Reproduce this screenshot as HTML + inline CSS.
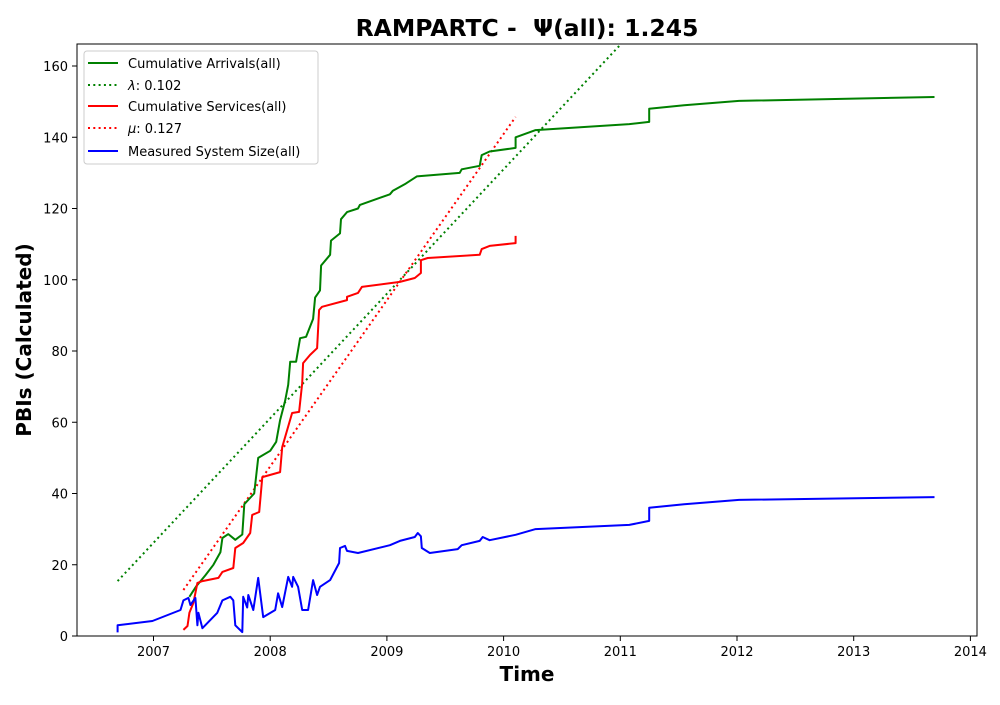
<!DOCTYPE html>
<html><head><meta charset="utf-8"><style>
body{margin:0;background:#fff;}
svg text{font-family:"DejaVu Sans","Liberation Sans",sans-serif;}
</style></head><body>
<svg id="chart" width="1000" height="700" xmlns="http://www.w3.org/2000/svg">
<defs><clipPath id="plotclip"><rect x="77" y="44" width="900" height="592"/></clipPath></defs>
<rect x="0" y="0" width="1000" height="700" fill="#fff"/>
<text x="527" y="36" text-anchor="middle" font-size="23.5" font-weight="bold" style="white-space:pre">RAMPARTC -  Ψ(all): 1.245</text>
<g id="xticks"></g>
<g id="yticks"></g>
<g id="series" clip-path="url(#plotclip)"></g>
<rect x="77" y="44" width="900" height="592" fill="none" stroke="#000" stroke-width="1"/>
<text x="527" y="681" text-anchor="middle" font-size="20" font-weight="bold">Time</text>
<text x="0" y="0" transform="translate(31,340) rotate(-90)" text-anchor="middle" font-size="20" font-weight="bold">PBIs (Calculated)</text>
<g>
<rect x="84" y="51" width="234" height="113" rx="3" fill="#fff" fill-opacity="0.8" stroke="#ccc"/>
<line x1="88" y1="63" x2="118" y2="63" stroke="green" stroke-width="2"/>
<text x="128" y="68" font-size="13">Cumulative Arrivals(all)</text>
<line x1="88" y1="85" x2="118" y2="85" stroke="green" stroke-width="2" stroke-dasharray="2,3.3"/>
<text x="128" y="90" font-size="13"><tspan font-style="italic">λ</tspan>: 0.102</text>
<line x1="88" y1="106" x2="118" y2="106" stroke="red" stroke-width="2"/>
<text x="128" y="111" font-size="13">Cumulative Services(all)</text>
<line x1="88" y1="128" x2="118" y2="128" stroke="red" stroke-width="2" stroke-dasharray="2,3.3"/>
<text x="128" y="133" font-size="13"><tspan font-style="italic">μ</tspan>: 0.127</text>
<line x1="88" y1="151" x2="118" y2="151" stroke="blue" stroke-width="2"/>
<text x="128" y="156" font-size="13">Measured System Size(all)</text>
</g>
</svg>
<script>
const xTickLabels=[2007,2008,2009,2010,2011,2012,2013,2014];
const yTickLabels=[0,20,40,60,80,100,120,140,160];
const arrT=[2007.308,2007.368,2007.444,2007.513,2007.573,2007.590,2007.641,2007.701,2007.761,2007.778,2007.863,2007.880,2007.897,2008.000,2008.051,2008.085,2008.128,2008.154,2008.171,2008.222,2008.256,2008.308,2008.368,2008.385,2008.427,2008.436,2008.513,2008.521,2008.598,2008.607,2008.658,2008.752,2008.769,2009.026,2009.051,2009.162,2009.256,2009.624,2009.641,2009.795,2009.812,2009.880,2010.103,2010.103,2010.274,2011.077,2011.248,2011.248,2011.547,2012.017,2013.692];
const arrV=[11,14,17,20,23.5,27.5,28.6,27,28.5,37,40,45,50,52,54.5,60.6,66,70.5,77,77,83.6,84,89,95,97,104,107,111,113,117,119,120,121,124,125,127,129,130,131,132,135,136,137,140,142,143.7,144.3,148,149,150.2,151.3];
const svcT=[2007.256,2007.291,2007.308,2007.342,2007.376,2007.419,2007.556,2007.590,2007.684,2007.701,2007.769,2007.829,2007.846,2007.906,2007.932,2008.085,2008.103,2008.188,2008.248,2008.274,2008.282,2008.342,2008.402,2008.419,2008.444,2008.658,2008.658,2008.752,2008.786,2009.111,2009.239,2009.291,2009.291,2009.350,2009.795,2009.812,2009.880,2010.103,2010.103];
const svcV=[1.7,2.8,6.5,9.3,14.9,15.4,16.3,18,19.1,24.7,26.1,28.9,34,34.8,44.6,46,53,62.6,62.9,71,76.6,78.9,80.8,91.5,92.4,94.3,95.2,96.3,98,99.4,100.5,101.9,105.5,106.1,107,108.6,109.5,110.3,112.3];
const sizeT=[2006.692,2006.692,2006.991,2007.231,2007.256,2007.299,2007.316,2007.359,2007.376,2007.385,2007.419,2007.547,2007.590,2007.658,2007.684,2007.701,2007.761,2007.769,2007.803,2007.812,2007.855,2007.897,2007.940,2008.043,2008.068,2008.103,2008.154,2008.188,2008.197,2008.239,2008.274,2008.325,2008.368,2008.402,2008.427,2008.513,2008.590,2008.598,2008.641,2008.658,2008.752,2009.026,2009.111,2009.239,2009.265,2009.291,2009.299,2009.368,2009.607,2009.641,2009.795,2009.821,2009.880,2010.103,2010.274,2011.077,2011.248,2011.248,2011.547,2012.017,2013.692];
const sizeV=[1,3,4.2,7.3,10,10.7,8.7,10.7,3,6.5,2.2,6.5,10,11,10,3,1.1,11,8,11.5,7.3,16.3,5.3,7.3,12,8.1,16.6,13.8,16.6,13.8,7.3,7.3,15.7,11.5,13.8,15.7,20.5,24.7,25.3,23.9,23.3,25.5,26.7,27.8,28.9,28,24.7,23.3,24.4,25.5,26.7,27.8,26.9,28.4,30,31.2,32.3,36,37,38.2,39];
const lambdaT=[2006.692,2011.05];
const lambdaV=[15.4,167.7];
const muT=[2007.256,2010.103];
const muV=[12.9,145.7];

const NS="http://www.w3.org/2000/svg";
function xs(t){return 153.5+(t-2007)*116.7;}
function ys(v){return 636-v*3.5625;}
function mk(tag,attrs,parent){const e=document.createElementNS(NS,tag);for(const k in attrs)e.setAttribute(k,attrs[k]);parent.appendChild(e);return e;}
const xg=document.getElementById('xticks'),yg=document.getElementById('yticks'),sg=document.getElementById('series');
xTickLabels.forEach(t=>{const x=xs(t);
 const l=mk('line',{x1:x,y1:636,x2:x,y2:641,stroke:'#000'},xg);
 
 
 const tx=mk('text',{x:x,y:656,'text-anchor':'middle','font-size':13},xg);tx.textContent=t;
 
 
});
yTickLabels.forEach(v=>{const y=ys(v);
 const l=mk('line',{x1:72,y1:y,x2:77,y2:y,stroke:'#000'},yg);
 
 
 const tx=mk('text',{x:68,y:y+5,'text-anchor':'end','font-size':13},yg);tx.textContent=v;
 
 
});
function line(T,V,color,dash,name){
 const pts=T.map((t,i)=>xs(t).toFixed(1)+','+ys(V[i]).toFixed(1)).join(' ');
 const a={points:pts,fill:'none',stroke:color,'stroke-width':2,'stroke-linejoin':'round'};
 if(dash)a['stroke-dasharray']=dash;
 const p=mk('polyline',a,sg);
 
 
}
line(lambdaT,lambdaV,'green','2,3.3','lambda-line');
line(muT,muV,'red','2,3.3','mu-line');
line(arrT,arrV,'green',null,'cumulative-arrivals-line');
line(svcT,svcV,'red',null,'cumulative-services-line');
line(sizeT,sizeV,'blue',null,'system-size-line');
</script>
</body></html>
